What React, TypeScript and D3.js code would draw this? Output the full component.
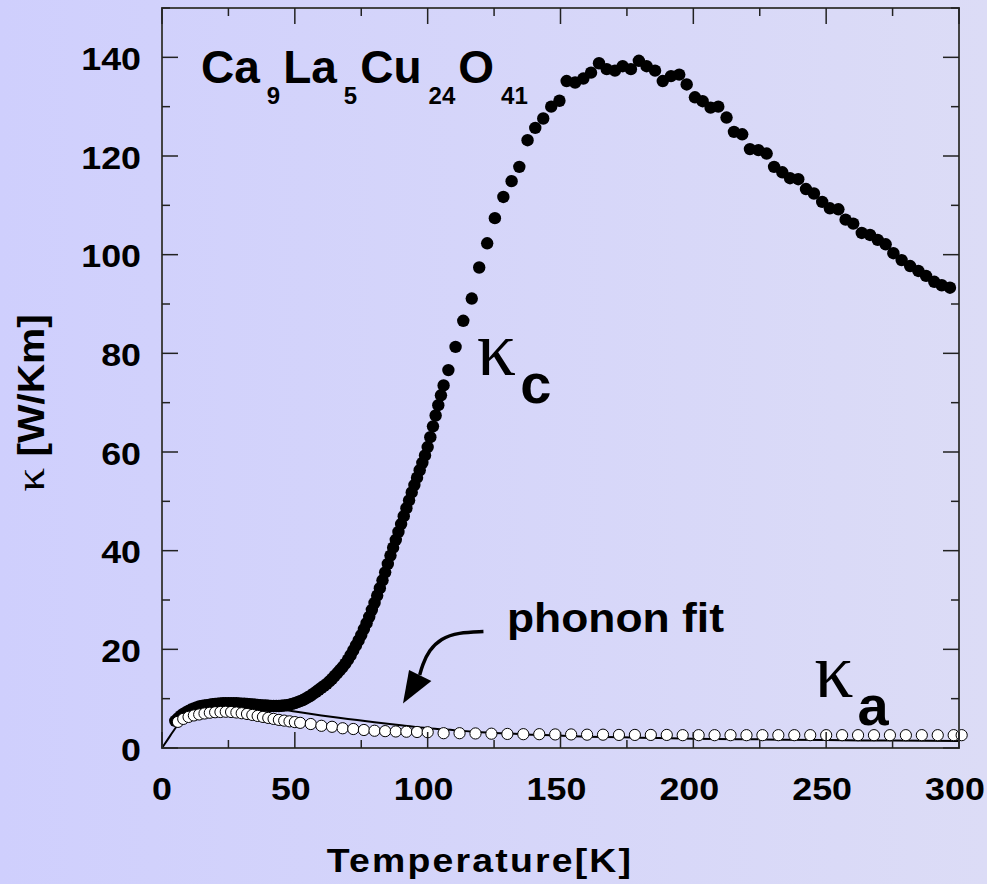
import { useEffect, useRef } from "react";
import * as d3 from "d3";

// κc (filled circles) — dense low-T part then sparse high-T part
const kcTemps = [
  5, 6, 7, 8, 9, 10, 11, 12, 13, 14, 15, 16, 17, 18, 19, 20, 21, 22, 23, 24, 25, 26, 27, 28, 29, 30,
  31, 32, 33, 34, 35, 36, 37, 38, 39, 40, 41, 42, 43, 44, 45, 46, 47, 48, 49, 50, 51, 52, 53, 54, 55,
  56, 57, 58, 59, 60, 61, 62, 63, 64, 65, 66, 67, 68, 69, 70, 71, 72, 73, 74, 75, 76, 77, 78, 79, 80,
  81, 82, 83, 84, 85, 86, 87, 88, 89, 90, 91, 92, 93, 94, 95, 96, 97, 98, 99, 100, 101, 102, 103, 104,
  105, 106,
  107.8, 110.5, 113.4, 116.6, 119.4, 122.4, 125.3, 128.5, 131.6, 134.5, 137.6, 140.5, 143.5, 146.5,
  149.6, 152.3, 155.5, 158.6, 161.5, 164.5, 167.4, 170.5, 173.4, 176.5, 179.5, 182.4, 185.6, 188.5,
  191.6, 194.7, 197.5, 200.6, 203.5, 206.5, 209.4, 212.5, 215.3, 218.4, 221.3, 224.5, 227.6, 230.4,
  233.5, 236.4, 239.5, 242.4, 245.4, 248.5, 251.4, 254.6, 257.3, 260.2, 263.4, 266.5, 269.4, 272.4,
  275.3, 278.4, 281.6, 284.7, 287.6, 290.7, 293.5, 296.6,
];
const kcValues = [
  5.5, 6.0, 6.5, 6.9, 7.2, 7.5, 7.8, 8.0, 8.2, 8.4, 8.5, 8.6, 8.7, 8.8, 8.9, 8.95, 9.0, 9.05, 9.1, 9.1,
  9.1, 9.1, 9.1, 9.1, 9.05, 9.0, 9.0, 8.95, 8.9, 8.85, 8.8, 8.75, 8.7, 8.65, 8.6, 8.55, 8.5, 8.5, 8.5,
  8.5, 8.55, 8.6, 8.7, 8.8, 8.95, 9.1, 9.3, 9.5, 9.7, 10.0, 10.3, 10.6, 11.0, 11.4, 11.8, 12.2, 12.6,
  13.0, 13.5, 14.0, 14.6, 15.2, 15.8, 16.4, 17.1, 17.9, 18.8, 19.8, 20.8, 21.8, 22.9, 24.1, 25.3, 26.6,
  28.0, 29.4, 30.9, 32.4, 34.0, 35.6, 37.3, 39.0, 40.6, 42.2, 43.8, 45.4, 47.0, 48.6, 50.2, 51.8, 53.3,
  54.8, 56.3, 57.8, 59.3, 61.0, 63.0, 65.2, 67.4, 69.5, 71.5, 73.5,
  76.6, 81.3, 86.6, 91.1, 97.4, 102.3, 107.4, 111.7, 114.9, 117.8, 123.2, 125.7, 127.6, 130.0,
  131.2, 135.2, 134.9, 135.7, 136.9, 138.8, 137.6, 137.3, 138.2, 137.6, 139.3, 138.2, 137.3, 135.2,
  136.2, 136.5, 134.5, 131.9, 131.1, 129.8, 130.0, 127.8, 124.9, 124.4, 121.4, 121.2, 120.5, 117.8,
  116.7, 115.5, 115.3, 113.3, 112.4, 110.7, 109.4, 109.2, 107.1, 106.3, 104.4, 104.0, 103.0, 102.1,
  100.3, 98.9, 97.7, 96.7, 95.7, 94.5, 93.8, 93.3,
];

// κa (open circles)
const kaTemps = [
  6, 8, 10, 12, 14, 16, 18, 20, 22, 24, 26, 28, 30, 32, 34, 36, 38, 40, 42, 44, 46, 48, 50, 52, 56, 60,
  64, 68, 72, 76, 80, 84, 88, 92, 96, 100, 106, 112, 118, 124, 130, 136, 142, 148, 154, 160, 166, 172,
  178, 184, 190, 196, 202, 208, 214, 220, 226, 232, 238, 244, 250, 256, 262, 268, 274, 280, 286, 292,
  298, 301,
];
const kaValues = [
  5.3, 5.9, 6.3, 6.6, 6.8, 7.0, 7.15, 7.25, 7.3, 7.35, 7.3, 7.2, 7.05, 6.9, 6.7, 6.5, 6.3, 6.1, 5.9,
  5.7, 5.55, 5.4, 5.25, 5.1, 4.86, 4.5, 4.3, 4.0, 3.85, 3.65, 3.5, 3.42, 3.35, 3.3, 3.25, 3.2, 3.0,
  3.0, 2.95, 2.9, 2.85, 2.8, 2.8, 2.75, 2.75, 2.7, 2.7, 2.65, 2.65, 2.65, 2.65, 2.6, 2.6, 2.6, 2.6,
  2.6, 2.6, 2.6, 2.6, 2.6, 2.6, 2.6, 2.6, 2.6, 2.6, 2.6, 2.6, 2.6, 2.6, 2.6,
];

// phonon fit (solid line)
const fitTemps = [0, 2, 5, 8, 10, 12, 15, 20, 25, 30, 35, 40, 45, 50, 60, 70, 80, 90, 100, 110, 120, 140, 160, 180, 200, 225, 250, 275, 300];
const fitValues = [0, 1.6, 4.0, 6.0, 6.9, 7.5, 8.1, 8.7, 8.9, 8.8, 8.5, 8.1, 7.8, 7.4, 6.6, 5.9, 5.2, 4.6, 4.0, 3.6, 3.2, 2.7, 2.3, 2.1, 1.9, 1.75, 1.6, 1.5, 1.4];

// arrow pointing to the fit, in data units [T, κ]
const arrowPath = [[121, 23.6], [111.5, 23.4], [105, 22.2], [100.5, 19.8], [98, 16.8], [97, 14.8]];
const arrowHead = [[90.7, 9.0], [93, 15.8], [101.4, 13.6]];

const xTicks = [0, 50, 100, 150, 200, 250, 300];
const yTicks = [0, 20, 40, 60, 80, 100, 120, 140];
const formula = [["Ca", "9"], ["La", "5"], ["Cu", "24"], ["O", "41"]];

const SANS = "'Liberation Sans', Arial, sans-serif";
const SERIF = "'Liberation Serif', 'Times New Roman', serif";

export default function App() {
  const svgRef = useRef<SVGSVGElement | null>(null);

  useEffect(() => {
    const W = 987;
    const H = 884;
    const margin = { left: 162, right: 28, top: 8, bottom: 136 };
    const svg = d3.select(svgRef.current);
    svg.selectAll("*").remove();
    svg.attr("width", W).attr("height", H);

    const defs = svg.append("defs");
    const grad = defs.append("linearGradient").attr("id", "bg").attr("x1", "0").attr("x2", "1").attr("y1", "0").attr("y2", "0");
    grad.append("stop").attr("offset", "0").attr("stop-color", "#cfcffd");
    grad.append("stop").attr("offset", "1").attr("stop-color", "#dcdcf6");
    svg.append("rect").attr("width", W).attr("height", H).attr("fill", "url(#bg)");

    const x = d3.scaleLinear().domain([0, 300]).range([margin.left, W - margin.right]);
    const y = d3.scaleLinear().domain([0, 150]).range([H - margin.bottom, margin.top]);
    const [x0, x1] = x.range();
    const [y0, y1] = y.range();

    // stretched bold text helper
    const label = (g, px, py, txt, size, anchor = "middle", sx = 1.12) =>
      g.append("text")
        .attr("transform", `translate(${px},${py}) scale(${sx},1)`)
        .attr("text-anchor", anchor)
        .attr("font-family", SANS)
        .attr("font-weight", 700)
        .attr("font-size", size)
        .attr("fill", "#000")
        .text(txt);

    // phonon fit line (under the symbols)
    const fitData = fitTemps.map((t, i) => [t, fitValues[i]]);
    svg.append("path")
      .datum(fitData)
      .attr("fill", "none")
      .attr("stroke", "#000")
      .attr("stroke-width", 2)
      .attr("d", d3.line().x((d) => x(d[0])).y((d) => y(d[1])).curve(d3.curveMonotoneX));

    // κc filled circles
    svg.append("g")
      .selectAll("circle")
      .data(kcTemps.map((t, i) => [t, kcValues[i]]))
      .join("circle")
      .attr("cx", (d) => x(d[0]))
      .attr("cy", (d) => y(d[1]))
      .attr("r", 6.2)
      .attr("fill", "#000");

    // κa open circles
    svg.append("g")
      .selectAll("circle")
      .data(kaTemps.map((t, i) => [t, kaValues[i]]))
      .join("circle")
      .attr("cx", (d) => x(d[0]))
      .attr("cy", (d) => y(d[1]))
      .attr("r", 5.6)
      .attr("fill", "#fff")
      .attr("stroke", "#000")
      .attr("stroke-width", 1);

    // frame
    svg.append("rect")
      .attr("x", x0).attr("y", y1)
      .attr("width", x1 - x0).attr("height", y0 - y1)
      .attr("fill", "none")
      .attr("stroke", "#444")
      .attr("stroke-width", 2);

    // inward ticks on all four sides
    const ticks = svg.append("g").attr("stroke", "#222").attr("stroke-width", 1.5);
    d3.range(0, 301, 25).forEach((t) => {
      const len = t % 50 === 0 ? 16 : 8;
      ticks.append("line").attr("x1", x(t)).attr("x2", x(t)).attr("y1", y0).attr("y2", y0 - len);
      ticks.append("line").attr("x1", x(t)).attr("x2", x(t)).attr("y1", y1).attr("y2", y1 + len);
    });
    d3.range(0, 151, 10).forEach((v) => {
      const len = v % 20 === 0 ? 16 : 8;
      ticks.append("line").attr("x1", x0).attr("x2", x0 + len).attr("y1", y(v)).attr("y2", y(v));
      ticks.append("line").attr("x1", x1).attr("x2", x1 - len).attr("y1", y(v)).attr("y2", y(v));
    });

    // tick labels
    xTicks.forEach((t) => label(svg, x(t) - (t === 0 ? 0 : 4), 800, String(t), 32));
    yTicks.forEach((v) => label(svg, 141, y(v) + 12.5, String(v), 32, "end"));

    // axis titles
    label(svg, 480, 872, "Temperature[K]", 34, "middle", 1.1).attr("letter-spacing", 2);
    const yt = svg.append("text")
      .attr("transform", `translate(43.5,403) rotate(-90) scale(1.1,1)`)
      .attr("text-anchor", "middle")
      .attr("font-family", SANS)
      .attr("font-weight", 700)
      .attr("font-size", 37);
    yt.append("tspan").attr("font-family", SERIF).attr("font-weight", 400).attr("font-size", 43).text("κ");
    yt.append("tspan").text(" [W/Km]");

    // formula with subscripts
    const f = svg.append("text")
      .attr("x", 201)
      .attr("y", 83)
      .attr("font-family", SANS)
      .attr("font-weight", 700)
      .attr("font-size", 46);
    formula.forEach(([el, n], i) => {
      f.append("tspan").attr("dx", i === 0 ? 0 : 3).attr("dy", i === 0 ? 0 : -21).text(el);
      f.append("tspan").attr("font-size", 24).attr("dx", 7).attr("dy", 21).text(n);
    });

    // κc and κa labels
    const kLabel = (t, v, sub) => {
      const g = svg.append("text").attr("x", x(t)).attr("y", y(v));
      g.append("tspan").attr("font-family", SERIF).attr("font-size", 78).text("κ");
      g.append("tspan").attr("font-family", SANS).attr("font-weight", 700).attr("font-size", 56).attr("dx", 4).attr("dy", 28).text(sub);
    };
    kLabel(118.5, 75.6, "c");
    kLabel(245.5, 10.3, "a");

    // phonon fit annotation
    label(svg, 507, 632, "phonon fit", 40, "start", 1.11);
    const arrowLine = d3.line().x((d) => x(d[0])).y((d) => y(d[1])).curve(d3.curveBasis);
    svg.append("path").attr("d", arrowLine(arrowPath)).attr("fill", "none").attr("stroke", "#000").attr("stroke-width", 3.5);
    svg.append("path")
      .attr("d", "M" + arrowHead.map((d) => `${x(d[0])},${y(d[1])}`).join("L") + "Z")
      .attr("fill", "#000");
  }, []);

  return (
    <div style={{ position: "absolute", left: 0, top: 0 }}>
      <svg ref={svgRef} style={{ display: "block" }} />
    </div>
  );
}
